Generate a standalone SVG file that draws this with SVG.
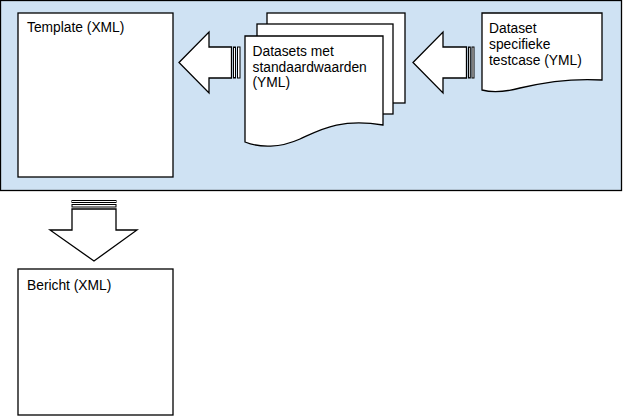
<svg xmlns="http://www.w3.org/2000/svg" width="623" height="417" viewBox="0 0 623 417">
  <style>
    .shape { fill: #ffffff; stroke: #000000; stroke-width: 1.3; stroke-linejoin: miter; }
    .stripe { fill: #ffffff; stroke: #000000; stroke-width: 1; }
    .panel { fill: #cfe2f3; stroke: #000000; stroke-width: 1.3; }
    .label { font-family: "Liberation Sans", Arial, sans-serif; font-size: 13.8px; fill: #000000; }
  </style>
  <rect width="623" height="417" fill="#ffffff"/>

  <!-- shared background panel -->
  <g id="panel">
    <rect class="panel" x="0.5" y="0.5" width="621" height="190"/>
  </g>

  <g id="template">
    <rect class="shape" x="18" y="13" width="155" height="164"/>
    <text class="label" x="27" y="32">Template (XML)</text>
  </g>

  <g id="datasets">
    <rect class="shape" x="267" y="13" width="138" height="90"/>
    <rect class="shape" x="257" y="24" width="136" height="90"/>
    <path class="shape" d="M245,36 H383 V125 C340,118 320,130 300,139 C280,148 260,148 245,142 Z"/>
    <text class="label" x="252.5" y="56">Datasets met</text>
    <text class="label" x="252.5" y="71.5">standaardwaarden</text>
    <text class="label" x="252.5" y="87">(YML)</text>
  </g>

  <g id="dataset-testcase">
    <path class="shape" d="M482,13 H602 V80 C570,78 545,82 520,88 C505,92 493,93 482,90 Z"/>
    <text class="label" x="489" y="33">Dataset</text>
    <text class="label" x="489" y="49">specifieke</text>
    <text class="label" x="489" y="65">testcase (YML)</text>
  </g>

  <g id="bericht">
    <rect class="shape" x="18" y="269" width="155" height="146"/>
    <text class="label" x="27" y="290">Bericht (XML)</text>
  </g>

  <!-- striped block arrows -->
  <g id="connectors">
    <g id="arrow-datasets-template">
      <path class="shape" d="M179,62.5 L209,32 V47 H231.5 V78 H209 V93 Z"/>
      <rect class="stripe" x="233.5" y="47" width="2" height="31"/>
      <rect class="stripe" x="237.5" y="47" width="2.5" height="31"/>
    </g>
    <g id="arrow-testcase-datasets">
      <path class="shape" d="M413,62.5 L443,32 V47 H466.5 V78 H443 V93 Z"/>
      <rect class="stripe" x="468.5" y="47" width="1.8" height="31"/>
      <rect class="stripe" x="472" y="47" width="2" height="31"/>
    </g>
    <g id="arrow-template-bericht">
      <path class="shape" d="M94,261 L50,230 H72 V209 H116 V230 H137 Z"/>
      <rect class="stripe" x="72" y="204.5" width="44" height="2.5"/>
      <rect class="stripe" x="72" y="200.5" width="44" height="2"/>
    </g>
  </g>
</svg>
